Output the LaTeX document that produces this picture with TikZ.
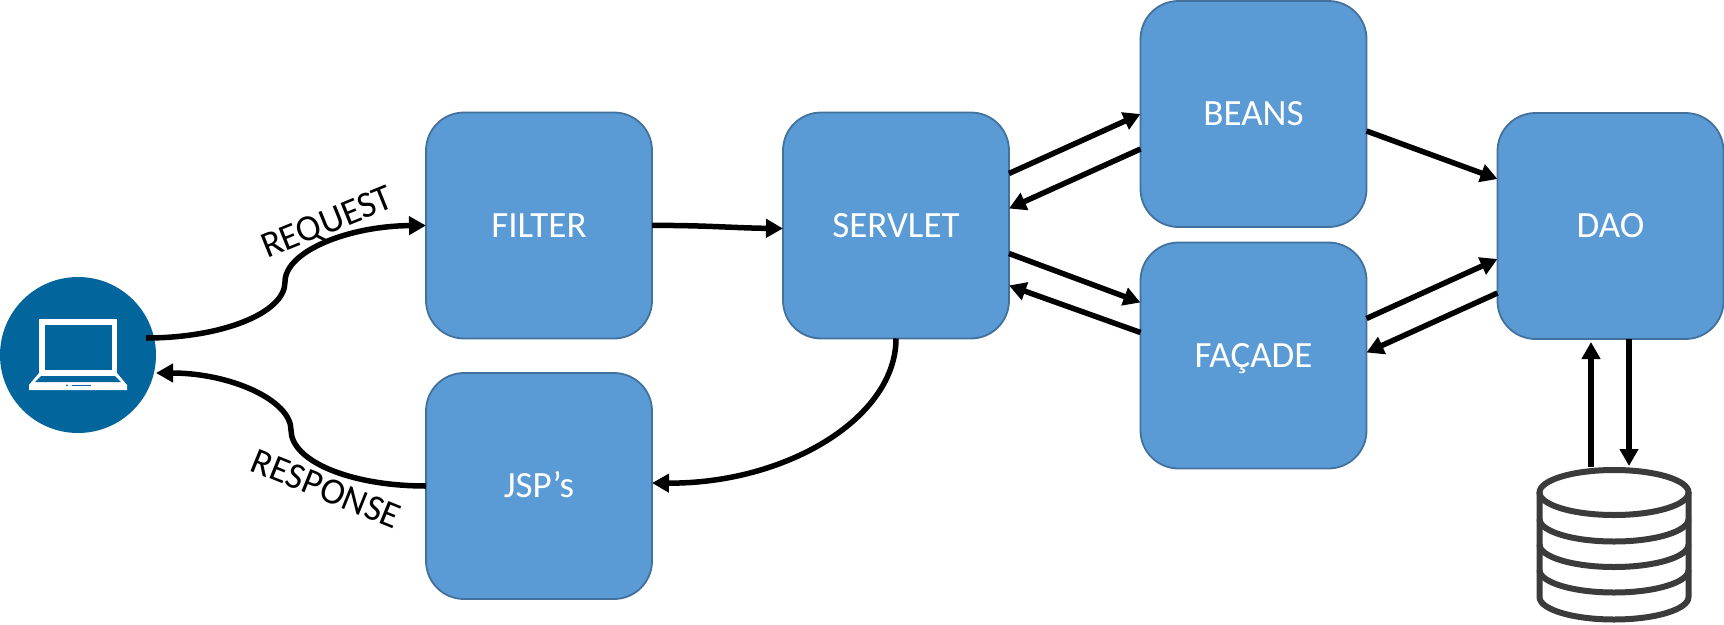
\documentclass[tikz,border=0pt]{standalone}
\usepackage{fontspec}
\setmainfont{Carlito}
\usetikzlibrary{arrows.meta,calc}
\definecolor{boxfill}{HTML}{5B9BD5}
\definecolor{boxedge}{HTML}{41719C}
\definecolor{clientblue}{HTML}{02669D}
\definecolor{dbgrey}{HTML}{3B3B3B}
\tikzset{
  block/.style={draw=boxedge,fill=boxfill,line width=1.8pt,rounded corners=38pt,outer sep=0pt,inner sep=0pt,
    minimum width=226pt,minimum height=226pt,text=white,font=\fontsize{37}{44}\selectfont,text height=23.5pt,text depth=0pt},
  link/.style={draw=black,line width=5.5pt,-{Triangle[length=17pt,width=18pt]}},
  tag/.style={font=\fontsize{37}{44}\selectfont,text=black,inner sep=0pt,text height=23.5pt,text depth=0pt},
  dbline/.style={draw=dbgrey,line width=6pt},
}
\begin{document}
\begin{tikzpicture}[x=1pt,y=-1pt]
\useasboundingbox (0,0) rectangle (1724,624);
% client
\node[circle,fill=clientblue,minimum size=156pt,inner sep=0pt,outer sep=0pt] (client) at (78,355) {};
\fill[white] (39,319) rectangle (117,373);
\fill[clientblue] (45,325) rectangle (112,370);
\fill[white] (39,373) -- (117,373) -- (127,385) -- (127,390) -- (29,390) -- (29,385) -- cycle;
\fill[clientblue] (41,376) -- (115,376) -- (121,382) -- (35,382) -- cycle;
\fill[clientblue] (67,385.3) circle (1pt);
\fill[clientblue] (72,384.6) rectangle (91,386);
% blocks
\node[block] (filter) at (539,225.5) {FILTER};
\node[block] (servlet) at (896,225.5) {SERVLET};
\node[block] (jsp) at (539,486) {JSP’s};
\node[block] (beans) at (1253.5,114) {BEANS};
\node[block] (facade) at (1253.5,355.5) {FAÇADE};
\node[block] (dao) at (1610.5,226) {DAO};
% database
\node[inner sep=0pt,outer sep=0pt,minimum width=154pt,minimum height=156pt] (db) at (1614,546) {};
\draw[dbline,line join=round] (1539.5,492) -- (1539.5,597) arc[start angle=180,end angle=360,x radius=74.5,y radius=-22.5] -- (1688.5,492);
\draw[dbline] (1614,492.5) ellipse [x radius=74.5,y radius=22.5];
\foreach \yy in {519,544.5,570}
  \draw[dbline] (1539.5,\yy) arc[start angle=180,end angle=360,x radius=74.5,y radius=-22.5];
% curved links
\draw[link] ([xshift=68pt,yshift=17pt]client.center) .. controls (222,338) and (285,313) .. (285,282)
  .. controls (285,251) and (349,226) .. (filter.west);
\draw[link] (jsp.west) .. controls (350,486) and (291,461) .. (291,430)
  .. controls (291,400) and (230,373) .. (156,373);
\draw[link] (filter.east) .. controls (700,225) and (735,228) .. ([yshift=-3pt]servlet.west);
\draw[link] (servlet.south) .. controls (896,418) and (786,484) .. ([yshift=3pt]jsp.east);
% straight links
\draw[link] ([yshift=-61pt]servlet.north east) -- ([yshift=0pt]beans.west);
\draw[link] ([yshift=-35pt]beans.west) -- ([yshift=17pt]servlet.east);
\draw[link] ([yshift=-28pt]servlet.east) -- ([yshift=53pt]facade.west);
\draw[link] ([yshift=23pt]facade.west) -- ([yshift=-60pt]servlet.east);
\draw[link] ([yshift=-17pt]beans.east) -- ([yshift=47pt]dao.west);
\draw[link] ([yshift=37pt]facade.east) -- ([yshift=-33pt]dao.west);
\draw[link] ([yshift=-67pt]dao.west) -- ([yshift=3pt]facade.east);
% database links
\draw[link] ([xshift=-23pt,yshift=1pt]db.north) -- ([xshift=-19.5pt,yshift=-3pt]dao.south);
\draw[link] ([xshift=18.5pt]dao.south) -- ([xshift=15pt,yshift=2pt]db.north);
% labels
\node[tag,rotate=22] (reqtag) at (327,222) {REQUEST};
\node[tag,rotate=-22] (restag) at (326,489) {RESPONSE};
\end{tikzpicture}
\end{document}
